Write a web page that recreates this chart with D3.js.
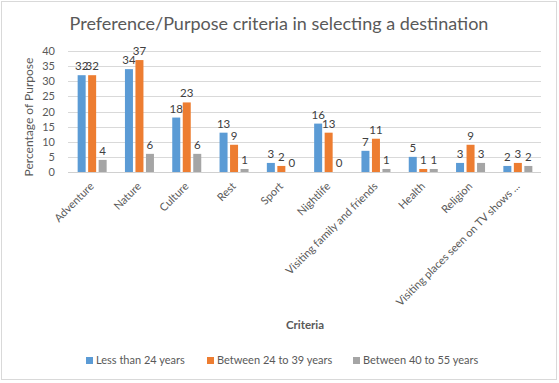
<!DOCTYPE html>
<html><head><meta charset="utf-8">
<script src="https://cdn.jsdelivr.net/npm/d3@7/dist/d3.min.js"></script>
<style>body{margin:0;background:#fff}svg{display:block}text{font-family:Lato,"Open Sans",sans-serif}</style>
</head><body><svg id="c" width="559" height="383"></svg>
<script>
const categories = ["Adventure","Nature","Culture","Rest","Sport","Nightlife","Visiting family and friends","Health","Religion","Visiting places seen on TV shows ..."];
const seriesNames = ["Less than 24 years","Between 24 to 39 years","Between 40 to 55 years"];
const less24 = [32,34,18,13,3,16,7,5,3,2];
const b24to39 = [32,37,23,9,2,13,11,1,9,3];
const b40to55 = [4,6,6,1,0,0,1,1,3,2];
const yTicks = [0,5,10,15,20,25,30,35,40];
const colors = ["#5B9BD5","#ED7D31","#A5A5A5"];
const series = [less24,b24to39,b40to55];

const svg = d3.select("#c");
svg.append("rect").attr("x",1.5).attr("y",1.5).attr("width",555).attr("height",378).attr("fill","#fff").attr("stroke","#d9d9d9");

const L=68,R=541,T=51,B=172;
const x = d3.scaleBand().domain(categories).range([L,R]);
const GW=29;
const xs = d3.scaleBand().domain([0,1,2]).range([0,GW]).paddingInner(0.238);
const y = d3.scaleLinear().domain([0,40]).range([B,T]);

svg.append("text").attr("x",279).attr("y",30).attr("text-anchor","middle").attr("font-size",18).attr("fill","#595959").text("Preference/Purpose  criteria in selecting a destination");

svg.append("g").selectAll("line").data(yTicks).join("line")
 .attr("x1",L).attr("x2",R).attr("y1",d=>Math.round(y(d))+0.5).attr("y2",d=>Math.round(y(d))+0.5)
 .attr("stroke",d=>d===0?"#d0d0d0":"#d9d9d9");
const ya = svg.append("g").attr("transform",`translate(${L-9},0)`).call(d3.axisLeft(y).tickValues(yTicks).tickSize(0).tickPadding(4));
ya.select(".domain").remove();
ya.selectAll("text").attr("font-size",11).attr("fill","#595959").attr("font-family","Lato,sans-serif");

svg.append("text").attr("transform","translate(33,117) rotate(-90)").attr("text-anchor","middle").attr("font-size",12).attr("fill","#595959").text("Percentage of Purpose");

const off = (x.bandwidth()-GW)/2 + 0.5;
series.forEach((s,i)=>{
  const g = svg.append("g");
  g.selectAll("rect").data(s).join("rect")
   .attr("x",(d,j)=>x(categories[j])+off+xs(i)).attr("width",xs.bandwidth())
   .attr("y",d=>y(d)).attr("height",d=>B-y(d)).attr("fill",colors[i]);
  g.selectAll("text").data(s).join("text")
   .attr("x",(d,j)=>x(categories[j])+off+xs(i)+xs.bandwidth()/2)
   .attr("y",d=>y(d)-5).attr("text-anchor","middle").attr("font-size",11.5).attr("fill","#404040").text(d=>d);
});

const xa = svg.append("g").attr("transform",`translate(0,${B})`).call(d3.axisBottom(x).tickSize(0).tickPadding(0));
xa.select(".domain").remove();
xa.selectAll("text").attr("font-size",11).attr("fill","#595959").attr("font-family","Lato,sans-serif")
  .attr("text-anchor","end").attr("dy",null).attr("transform","translate(3,15) rotate(-45)");

svg.append("text").attr("x",305).attr("y",329).attr("text-anchor","middle").attr("font-size",11.5).attr("font-weight","bold").attr("fill","#595959").text("Criteria");

const legX=[86,207,353];
const lg = svg.append("g");
seriesNames.forEach((n,i)=>{
  lg.append("rect").attr("x",legX[i]).attr("y",357).attr("width",7).attr("height",7).attr("fill",colors[i]);
  lg.append("text").attr("x",legX[i]+10).attr("y",364).attr("font-size",11).attr("fill","#595959").text(n);
});
</script></body></html>
